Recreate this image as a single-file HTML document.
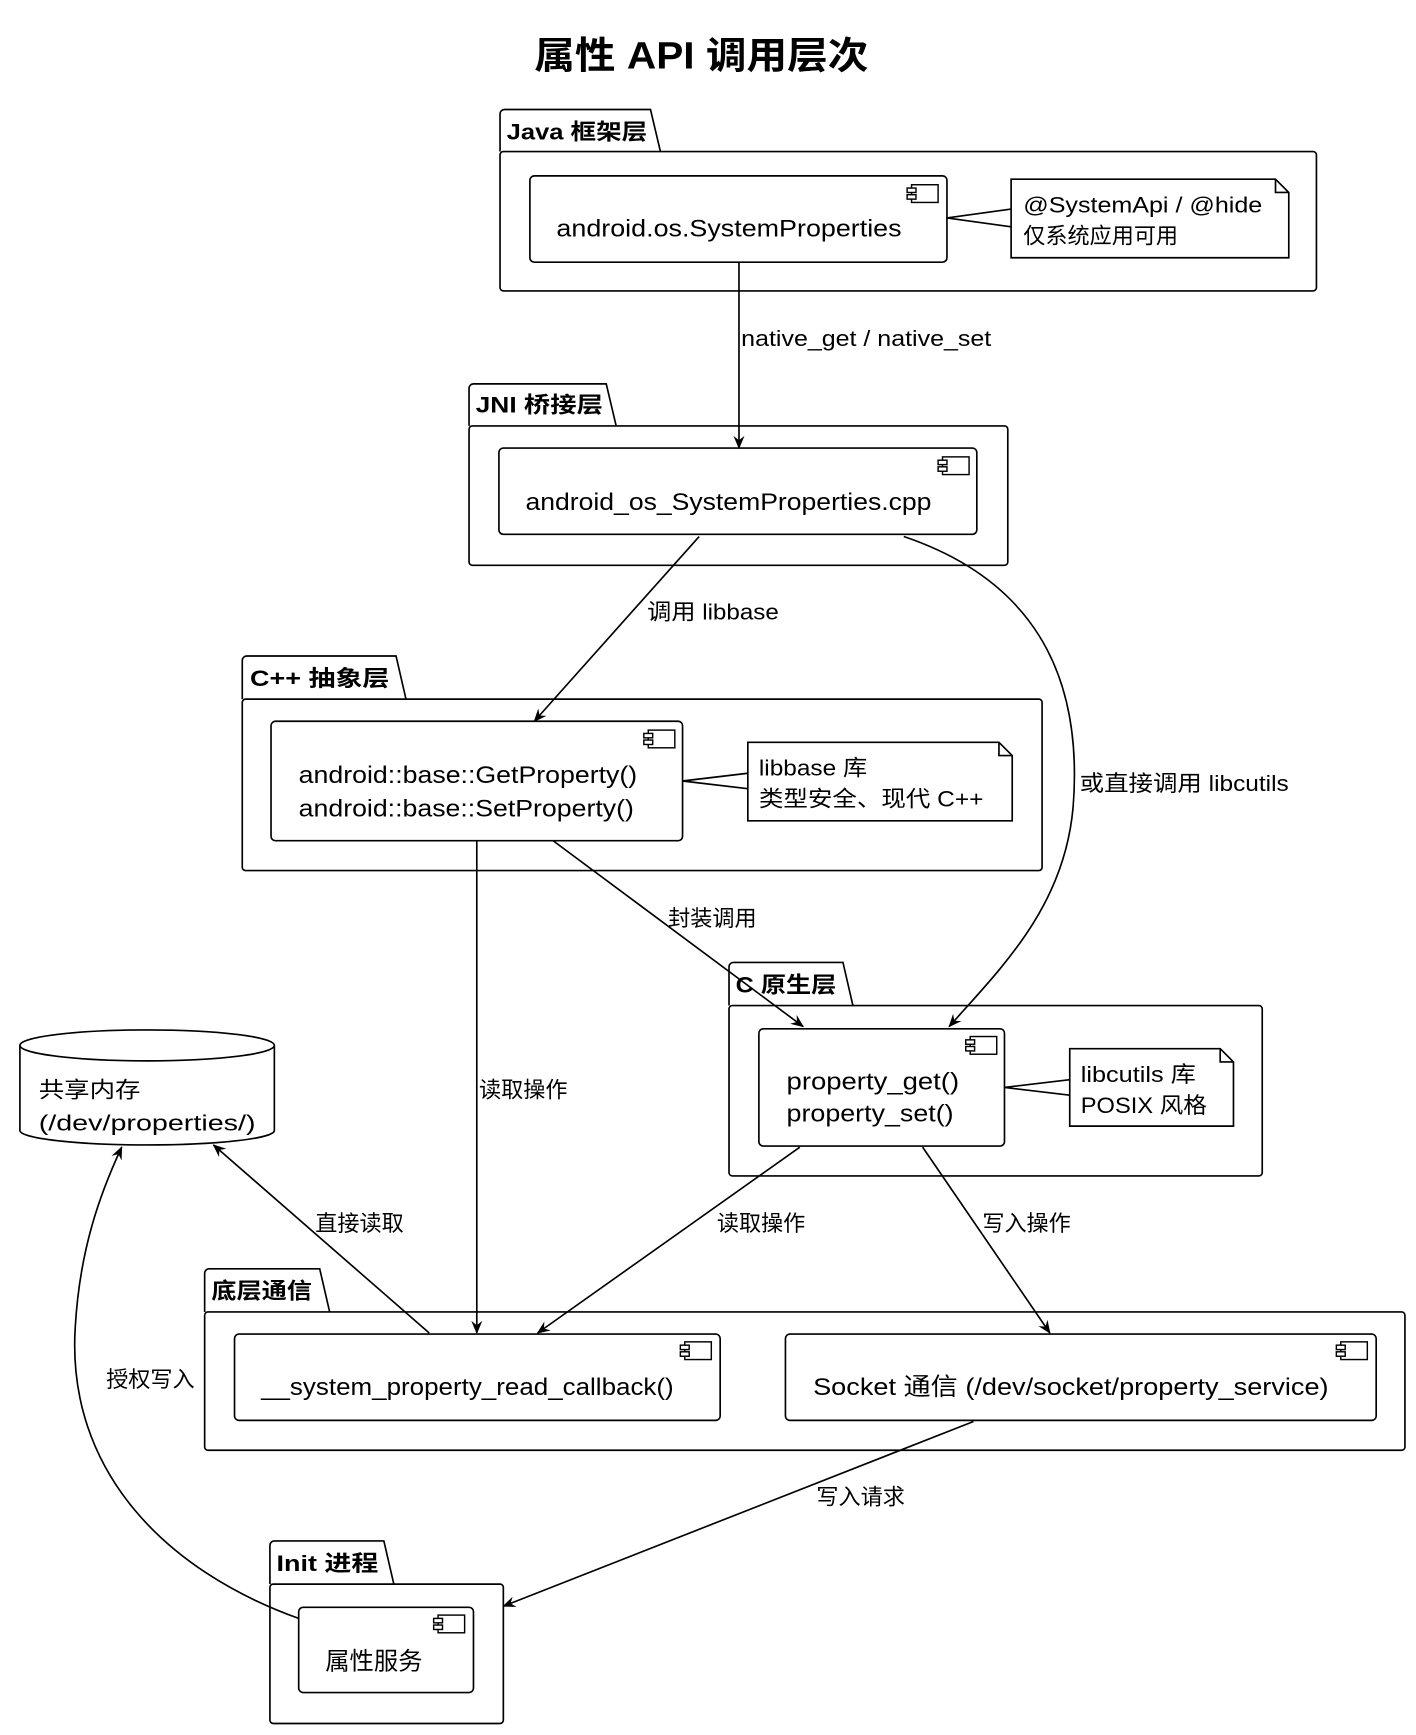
<!DOCTYPE html>
<html><head><meta charset="utf-8"><style>
html,body{margin:0;padding:0;background:#fff}
svg{display:block}
text{font-family:"Liberation Sans","Noto Sans CJK SC",sans-serif;fill:#000}
.b{font-weight:bold}
</style></head><body>
<svg width="1416" height="1735" viewBox="0 0 1280 1568.4" preserveAspectRatio="none" xmlns="http://www.w3.org/2000/svg">
<defs>
<marker id="a" viewBox="0 0 12 10" refX="11" refY="5" markerWidth="12" markerHeight="10" markerUnits="userSpaceOnUse" orient="auto">
<path d="M0,0 L12,5 L0,10 L4,5 z" fill="#000"/></marker>
<g id="ic"><rect x="4" y="0" width="24" height="16" fill="#fff" stroke="#000" stroke-width="1.3"/><rect x="0" y="3" width="8" height="4" fill="#fff" stroke="#000" stroke-width="1.3"/><rect x="0" y="9" width="8" height="4" fill="#fff" stroke="#000" stroke-width="1.3"/></g>
</defs>
<g fill="none" stroke="#000" stroke-width="1.5">
<path d="M452,137 V103 a4,4 0 0 1 4,-4 H588 L597,137"/><rect x="452" y="137" width="738" height="126" rx="3"/>
<path d="M424,385 V351 a4,4 0 0 1 4,-4 H548 L557,385"/><rect x="424" y="385" width="487" height="126" rx="3"/>
<path d="M219,632 V597 a4,4 0 0 1 4,-4 H358 L367,632"/><rect x="219" y="632" width="723" height="155" rx="3"/>
<path d="M659,909 V874 a4,4 0 0 1 4,-4 H762 L771,909"/><rect x="659" y="909" width="482" height="154" rx="3"/>
<path d="M185,1186 V1151 a4,4 0 0 1 4,-4 H289 L298,1186"/><rect x="185" y="1186" width="1085" height="125" rx="3"/>
<path d="M244,1432 V1397 a4,4 0 0 1 4,-4 H347 L356,1432"/><rect x="244" y="1432" width="211" height="126" rx="3"/>
<rect x="479" y="159" width="377" height="78" rx="4"/>
<rect x="451" y="405" width="432" height="78" rx="4"/>
<rect x="245" y="652" width="372" height="108" rx="4"/>
<rect x="686" y="930" width="222" height="106" rx="4"/>
<rect x="212" y="1206" width="439" height="78" rx="4"/>
<rect x="710" y="1206" width="534" height="78" rx="4"/>
<rect x="270" y="1453" width="158" height="77" rx="4"/>
<path d="M914,162 H1153 L1165,174 V233 H914 Z M1153,162 V174 H1165"/>
<path d="M914,189 L856,197 L914,205"/>
<path d="M676,671 H903 L915,683 V742 H676 Z M903,671 V683 H915"/>
<path d="M676,699 L617,706 L676,713"/>
<path d="M967,948 H1103 L1115,960 V1018 H967 Z M1103,948 V960 H1115"/>
<path d="M967,976 L908,983 L967,990"/>
<path d="M18,945 V1022 A115,13 0 0 0 248,1022 V945"/>
<ellipse cx="133" cy="945" rx="115" ry="14"/>
<path d="M668,237 V405" marker-end="url(#a)"/>
<path d="M632,485 L483,652" marker-end="url(#a)"/>
<path d="M817,485 C950,530 978,630 970,730 C962,820 905,875 858,928" marker-end="url(#a)"/>
<path d="M431,760 V1205" marker-end="url(#a)"/>
<path d="M500,760 L726,928" marker-end="url(#a)"/>
<path d="M723,1037 L486,1205" marker-end="url(#a)"/>
<path d="M834,1037 L949,1205" marker-end="url(#a)"/>
<path d="M388,1205 L193,1035" marker-end="url(#a)"/>
<path d="M270,1463 C150,1420 60,1330 68,1200 C72,1130 90,1080 110,1037" marker-end="url(#a)"/>
<path d="M880,1285 L455,1452" marker-end="url(#a)"/>
</g>
<use href="#ic" x="820" y="167"/><use href="#ic" x="848" y="413"/><use href="#ic" x="582" y="660"/>
<use href="#ic" x="873" y="937"/><use href="#ic" x="615" y="1213"/><use href="#ic" x="1208" y="1213"/><use href="#ic" x="392" y="1460"/>
<g lengthAdjust="spacingAndGlyphs">
<text x="483" y="62" class="b" font-size="34" textLength="302" lengthAdjust="spacingAndGlyphs">属性 API 调用层次</text>
<text x="458" y="126" class="b" font-size="20" textLength="127" lengthAdjust="spacingAndGlyphs">Java 框架层</text>
<text x="430" y="373" class="b" font-size="20" textLength="115" lengthAdjust="spacingAndGlyphs">JNI 桥接层</text>
<text x="226" y="620" class="b" font-size="20" textLength="126" lengthAdjust="spacingAndGlyphs">C++ 抽象层</text>
<text x="665" y="897" class="b" font-size="20" textLength="91" lengthAdjust="spacingAndGlyphs">C 原生层</text>
<text x="191" y="1174" class="b" font-size="20" textLength="91" lengthAdjust="spacingAndGlyphs">底层通信</text>
<text x="250" y="1420" class="b" font-size="20" textLength="92" lengthAdjust="spacingAndGlyphs">Init 进程</text>
<text x="503" y="214" font-size="22" textLength="312" lengthAdjust="spacingAndGlyphs">android.os.SystemProperties</text>
<text x="475" y="461" font-size="22" textLength="367" lengthAdjust="spacingAndGlyphs">android_os_SystemProperties.cpp</text>
<text x="270" y="708" font-size="22" textLength="306" lengthAdjust="spacingAndGlyphs">android::base::GetProperty()</text>
<text x="270" y="738" font-size="22" textLength="303" lengthAdjust="spacingAndGlyphs">android::base::SetProperty()</text>
<text x="711" y="985" font-size="22" textLength="156" lengthAdjust="spacingAndGlyphs">property_get()</text>
<text x="711" y="1014" font-size="22" textLength="151" lengthAdjust="spacingAndGlyphs">property_set()</text>
<text x="236" y="1261" font-size="22" textLength="373" lengthAdjust="spacingAndGlyphs">__system_property_read_callback()</text>
<text x="735" y="1261" font-size="22" textLength="466" lengthAdjust="spacingAndGlyphs">Socket 通信 (/dev/socket/property_service)</text>
<text x="294" y="1509" font-size="22">属性服务</text>
<text x="925" y="192" font-size="20" textLength="216" lengthAdjust="spacingAndGlyphs">@SystemApi / @hide</text>
<text x="925" y="220" font-size="20">仅系统应用可用</text>
<text x="686" y="701" font-size="20" textLength="98" lengthAdjust="spacingAndGlyphs">libbase 库</text>
<text x="686" y="729" font-size="20" textLength="203" lengthAdjust="spacingAndGlyphs">类型安全、现代 C++</text>
<text x="977" y="978" font-size="20" textLength="104" lengthAdjust="spacingAndGlyphs">libcutils 库</text>
<text x="977" y="1006" font-size="20" textLength="114" lengthAdjust="spacingAndGlyphs">POSIX 风格</text>
<text x="35" y="992" font-size="20" textLength="92" lengthAdjust="spacingAndGlyphs">共享内存</text>
<text x="35" y="1022" font-size="20" textLength="196" lengthAdjust="spacingAndGlyphs">(/dev/properties/)</text>
<text x="670" y="313" font-size="20" textLength="226" lengthAdjust="spacingAndGlyphs">native_get / native_set</text>
<text x="585" y="560" font-size="20" textLength="119" lengthAdjust="spacingAndGlyphs">调用 libbase</text>
<text x="976" y="715" font-size="20" textLength="189" lengthAdjust="spacingAndGlyphs">或直接调用 libcutils</text>
<text x="604" y="837" font-size="20">封装调用</text>
<text x="433" y="992" font-size="20">读取操作</text>
<text x="648" y="1113" font-size="20">读取操作</text>
<text x="888" y="1113" font-size="20">写入操作</text>
<text x="285" y="1113" font-size="20">直接读取</text>
<text x="96" y="1254" font-size="20">授权写入</text>
<text x="738" y="1360" font-size="20">写入请求</text>
</g>
</svg>
</body></html>
